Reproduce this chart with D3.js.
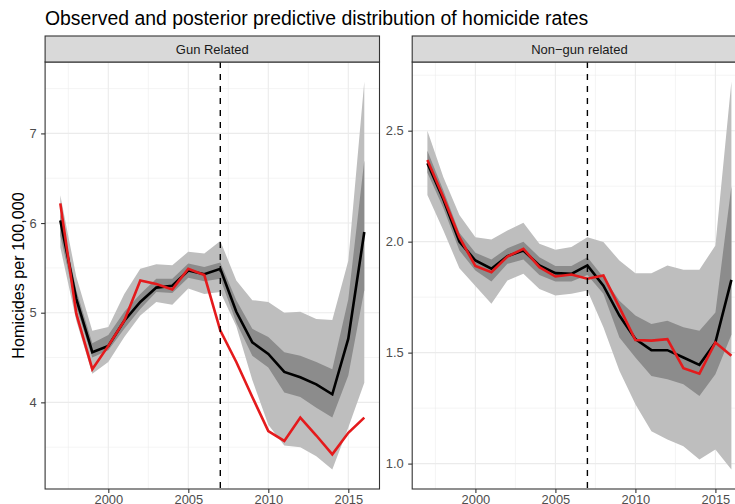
<!DOCTYPE html>
<html>
<head>
<meta charset="utf-8">
<script src="https://cdn.jsdelivr.net/npm/d3@7"></script>
<style>
  body { margin: 0; background: #fff; }
  text { font-family: "Liberation Sans", Arial, sans-serif; }
</style>
</head>
<body>
<div id="chart"></div>
<script>
var years = [1997, 1998, 1999, 2000, 2001, 2002, 2003, 2004, 2005, 2006,
             2007, 2008, 2009, 2010, 2011, 2012, 2013, 2014, 2015, 2016];

// Gun related
var gun_obs   = [6.22, 4.99, 4.37, 4.63, 4.91, 5.36, 5.32, 5.26, 5.49, 5.42,
                 4.80, 4.45, 4.06, 3.68, 3.57, 3.83, 3.63, 3.42, 3.66, 3.83];
var gun_med   = [6.03, 5.155, 4.56, 4.63, 4.91, 5.12, 5.28, 5.30, 5.47, 5.43,
                 5.49, 5.01, 4.67, 4.54, 4.34, 4.28, 4.20, 4.09, 4.71, 5.90];
var gun_hi95  = [6.31, 5.40, 4.80, 4.84, 5.21, 5.49, 5.54, 5.53, 5.68, 5.66,
                 5.80, 5.36, 5.14, 5.12, 5.00, 5.01, 4.93, 4.92, 5.58, 7.58];
var gun_lo95  = [5.73, 4.91, 4.32, 4.45, 4.73, 4.97, 5.12, 5.09, 5.27, 5.21,
                 5.23, 4.85, 4.25, 3.75, 3.52, 3.50, 3.40, 3.25, 3.72, 4.22];
var gun_hi50  = [6.11, 5.25, 4.66, 4.75, 5.01, 5.21, 5.38, 5.38, 5.55, 5.51,
                 5.56, 5.14, 4.82, 4.73, 4.56, 4.52, 4.45, 4.37, 5.15, 6.70];
var gun_lo50  = [5.86, 5.06, 4.50, 4.58, 4.82, 5.04, 5.23, 5.22, 5.39, 5.35,
                 5.38, 4.89, 4.52, 4.39, 4.11, 4.06, 3.94, 3.83, 4.30, 5.25];

// Non-gun related
var ng_obs    = [2.368, 2.20, 2.02, 1.89, 1.862, 1.933, 1.968, 1.885, 1.843, 1.852,
                 1.833, 1.848, 1.704, 1.557, 1.554, 1.561, 1.43, 1.405, 1.546, 1.486];
var ng_med    = [2.353, 2.19, 2.00, 1.915, 1.878, 1.935, 1.96, 1.893, 1.858, 1.855,
                 1.893, 1.802, 1.667, 1.561, 1.511, 1.511, 1.478, 1.445, 1.546, 1.828];
var ng_hi95   = [2.50, 2.29, 2.12, 2.02, 2.01, 2.05, 2.085, 1.99, 1.964, 1.976,
                 2.02, 1.998, 1.915, 1.858, 1.858, 1.893, 1.873, 1.873, 1.983, 2.722];
var ng_lo95   = [2.21, 2.05, 1.88, 1.80, 1.72, 1.825, 1.855, 1.787, 1.757, 1.765,
                 1.78, 1.614, 1.418, 1.267, 1.146, 1.109, 1.078, 1.018, 1.063, 0.973];
var ng_hi50   = [2.41, 2.23, 2.04, 1.95, 1.92, 1.97, 2.00, 1.93, 1.89, 1.89,
                 1.93, 1.84, 1.734, 1.667, 1.629, 1.644, 1.614, 1.599, 1.681, 2.25];
var ng_lo50   = [2.31, 2.15, 1.96, 1.87, 1.82, 1.90, 1.92, 1.85, 1.82, 1.82,
                 1.85, 1.765, 1.568, 1.478, 1.395, 1.38, 1.357, 1.305, 1.403, 1.58];

var x_ticks     = [2000, 2005, 2010, 2015];
var gun_ticks   = [4, 5, 6, 7];
var ng_ticks    = [1.0, 1.5, 2.0, 2.5];
var break_year  = 2007;
var title_text  = 'Observed and posterior predictive distribution of homicide rates';

var chart_width   = 735;
var chart_height  = 504;
var strip_top     = 36;
var panel_top     = 62;
var panel_bottom  = 489;
var panel_width   = 334.4;
var tick_font     = 12.9;

var svg = d3.select('#chart')
  .append('svg')
  .attr('width', chart_width)
  .attr('height', chart_height);

// Title
svg.append('text')
  .attr('x', 45)
  .attr('y', 25)
  .attr('font-size', 19.4)
  .attr('fill', '#000')
  .text(title_text);

// Y axis title
svg.append('text')
  .attr('transform', 'translate(24,' + ((panel_top + panel_bottom) / 2) + ') rotate(-90)')
  .attr('text-anchor', 'middle')
  .attr('font-size', 16.2)
  .attr('fill', '#000')
  .text('Homicides per 100,000');

function zip(a, b) {
  return a.map(function(v, i) { return [v, b[i]]; });
}

function expand(lo, hi) {
  var pad = (hi - lo) * 0.05;
  return [lo - pad, hi + pad];
}

function draw_panel(left, label, p, y_ticks, y_fmt) {
  var x_scale = d3.scaleLinear()
    .domain(expand(d3.min(years), d3.max(years)))
    .range([left, left + panel_width]);

  var y_scale = d3.scaleLinear()
    .domain(expand(d3.min(p.lo95), d3.max(p.hi95)))
    .range([panel_bottom, panel_top]);

  var g = svg.append('g');

  // Grid: minor then major
  var xd = x_scale.domain(), yd = y_scale.domain();
  var x_minor = [];
  for (var i = 0; i < x_ticks.length; i++) x_minor.push(x_ticks[i] - 2.5);
  x_minor.push(x_ticks[x_ticks.length - 1] + 2.5);
  x_minor = x_minor.filter(function(v) { return v > xd[0] && v < xd[1]; });
  var step = y_ticks[1] - y_ticks[0];
  var y_minor = [y_ticks[0] - step / 2].concat(y_ticks.map(function(v) { return v + step / 2; }))
    .filter(function(v) { return v > yd[0] && v < yd[1]; });

  g.selectAll('.xminor').data(x_minor).enter().append('line')
    .attr('x1', function(d) { return x_scale(d); })
    .attr('x2', function(d) { return x_scale(d); })
    .attr('y1', panel_top).attr('y2', panel_bottom)
    .attr('stroke', '#EBEBEB').attr('stroke-width', 0.55);
  g.selectAll('.yminor').data(y_minor).enter().append('line')
    .attr('x1', left).attr('x2', left + panel_width)
    .attr('y1', function(d) { return y_scale(d); })
    .attr('y2', function(d) { return y_scale(d); })
    .attr('stroke', '#EBEBEB').attr('stroke-width', 0.55);
  g.selectAll('.xmajor').data(x_ticks).enter().append('line')
    .attr('x1', function(d) { return x_scale(d); })
    .attr('x2', function(d) { return x_scale(d); })
    .attr('y1', panel_top).attr('y2', panel_bottom)
    .attr('stroke', '#EBEBEB').attr('stroke-width', 1.1);
  g.selectAll('.ymajor').data(y_ticks).enter().append('line')
    .attr('x1', left).attr('x2', left + panel_width)
    .attr('y1', function(d) { return y_scale(d); })
    .attr('y2', function(d) { return y_scale(d); })
    .attr('stroke', '#EBEBEB').attr('stroke-width', 1.1);

  // Ribbons
  var band = d3.area()
    .x(function(d, i) { return x_scale(years[i]); })
    .y0(function(d) { return y_scale(d[0]); })
    .y1(function(d) { return y_scale(d[1]); });

  g.append('path').datum(zip(p.lo95, p.hi95))
    .attr('d', band).attr('fill', '#BEBEBE');
  g.append('path').datum(zip(p.lo50, p.hi50))
    .attr('d', band).attr('fill', '#8C8C8C');

  var line = d3.line()
    .x(function(d, i) { return x_scale(years[i]); })
    .y(function(d) { return y_scale(d); });

  g.append('path').datum(p.med)
    .attr('d', line).attr('fill', 'none')
    .attr('stroke', '#000').attr('stroke-width', 2.6);
  g.append('path').datum(p.obs)
    .attr('d', line).attr('fill', 'none')
    .attr('stroke', '#E41A1C').attr('stroke-width', 2.6);

  // Break line
  g.append('line')
    .attr('x1', x_scale(break_year)).attr('x2', x_scale(break_year))
    .attr('y1', panel_top).attr('y2', panel_bottom)
    .attr('stroke', '#000').attr('stroke-width', 1.4)
    .attr('stroke-dasharray', '6,6');

  // Panel border
  g.append('rect')
    .attr('x', left).attr('y', panel_top)
    .attr('width', panel_width).attr('height', panel_bottom - panel_top)
    .attr('fill', 'none').attr('stroke', '#333333').attr('stroke-width', 1.1);

  // Strip
  g.append('rect')
    .attr('x', left).attr('y', strip_top)
    .attr('width', panel_width).attr('height', panel_top - strip_top)
    .attr('fill', '#D9D9D9').attr('stroke', '#333333').attr('stroke-width', 1.1);
  g.append('text')
    .attr('x', left + panel_width / 2)
    .attr('y', (strip_top + panel_top) / 2 + 4.6)
    .attr('text-anchor', 'middle')
    .attr('font-size', 13)
    .attr('fill', '#1A1A1A')
    .text(label);

  // Axes
  var y_axis = g.append('g')
    .attr('transform', 'translate(' + left + ',0)')
    .call(d3.axisLeft(y_scale).tickValues(y_ticks).tickFormat(y_fmt)
      .tickSize(4).tickPadding(4.5));
  var x_axis = g.append('g')
    .attr('transform', 'translate(0,' + panel_bottom + ')')
    .call(d3.axisBottom(x_scale).tickValues(x_ticks).tickFormat(d3.format('d'))
      .tickSize(4).tickPadding(2));

  [y_axis, x_axis].forEach(function(a) {
    a.select('.domain').remove();
    a.selectAll('line').attr('stroke', '#333333').attr('stroke-width', 1.1);
    a.selectAll('text').attr('fill', '#4D4D4D')
      .attr('font-size', tick_font)
      .attr('font-family', '"Liberation Sans", Arial, sans-serif');
  });
}

draw_panel(45.1, 'Gun Related', {
  obs: gun_obs, med: gun_med,
  lo95: gun_lo95, hi95: gun_hi95, lo50: gun_lo50, hi50: gun_hi50
}, gun_ticks, d3.format('d'));

draw_panel(412.2, 'Non\u2212gun related', {
  obs: ng_obs, med: ng_med,
  lo95: ng_lo95, hi95: ng_hi95, lo50: ng_lo50, hi50: ng_hi50
}, ng_ticks, d3.format('.1f'));
</script>
</body>
</html>
